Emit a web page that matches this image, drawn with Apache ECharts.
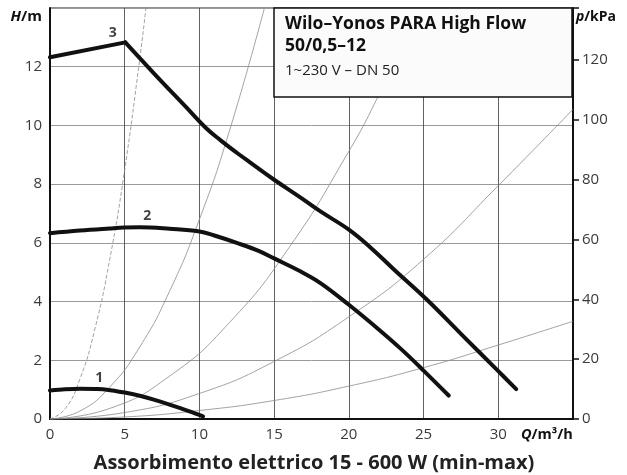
<!DOCTYPE html>
<html>
<head>
<meta charset="utf-8">
<script src="https://cdn.jsdelivr.net/npm/echarts@6/dist/echarts.min.js"></script>
<style>
html,body{margin:0;padding:0;background:#fff;}
#c{width:627px;height:475px;}
</style>
</head>
<body>
<div id="c"></div>
<script>
// ---- data ----
const xTicks = [0, 5, 10, 15, 20, 25, 30];
const hTicks = [0, 2, 4, 6, 8, 10, 12];
const pTicks = [0, 20, 40, 60, 80, 100, 120];

// pump curves (Q m3/h, H m)
const curve1 = [[0,0.97],[1,1.01],[2,1.03],[3,1.02],[3.8,1.0],[5,0.9],[6,0.79],[7,0.65],[8,0.49],[9.33,0.26],[10.24,0.09]];
const curve2 = [[0,6.33],[2,6.42],[4,6.49],[5,6.52],[6,6.53],[8,6.48],[10,6.39],[11,6.25],[12.5,6.0],[14,5.72],[15,5.47],[16.75,5.03],[18.1,4.63],[20,3.89],[22,3.05],[23.5,2.38],[25,1.65],[26.68,0.8]];
const curve3 = [[0,12.32],[5.04,12.83],[7,11.75],[9,10.68],[10.4,9.93],[11.4,9.5],[12.5,9.07],[13.5,8.7],[15,8.15],[16.75,7.55],[18.1,7.07],[20,6.45],[21.5,5.82],[23,5.1],[25.23,4.06],[27.5,2.9],[30,1.63],[31.2,1.02]];

// system curves (thin)
const sysA = [[0,0],[1,0.34],[2,1.36],[3,3.06],[4,5.44],[5,8.5],[6,12.24],[6.42,14]];
const sysB = [[0,0],[2,0.27],[4,1.09],[6,2.45],[8,4.35],[10,6.8],[12,9.8],[14.35,14]];
const sysC = [[0,0],[4,0.36],[8,1.46],[12,3.28],[16,5.84],[20,9.12],[22,11.03],[24.78,14]];
const sysD = [[0,0],[5,0.22],[10,0.87],[15,1.96],[20,3.48],[25,5.44],[30,7.95],[35,10.55]];
const sysE = [[0,0],[5,0.07],[10,0.29],[15,0.63],[20,1.12],[25,1.75],[30,2.52],[35,3.33]];

const curveLabels = [[3.3,1.39,'1'],[6.5,6.9,'2'],[4.2,13.16,'3']];

const titleLines = ['Wilo–Yonos PARA High Flow', '50/0,5–12', '1~230 V – DN 50'];
const footer = 'Assorbimento elettrico 15 - 600 W (min-max)';

const FONT = '"Open Sans", "DejaVu Sans", sans-serif';
const chart = echarts.init(document.getElementById('c'), null, {renderer: 'canvas'});

function thin(data, dashed){
  return {type:'line', data:data, smooth:true, showSymbol:false, silent:true, z:2,
    lineStyle:{color:'#8c8c8c', width:0.8, type: dashed ? [4,2] : 'solid'}};
}
function thick(data, smooth){
  return {type:'line', data:data, smooth:smooth, showSymbol:false, silent:true, z:5,
    lineStyle:{color:'#111', width:4, cap:'round', join:'round'}};
}

chart.setOption({
  animation:false,
  backgroundColor:'#fff',
  grid:{left:50, right:54, top:8, bottom:56, show:true, borderColor:'#222', borderWidth:1, backgroundColor:'transparent'},
  xAxis:{type:'value', min:0, max:35, interval:5,
    axisLine:{show:true, onZero:false, lineStyle:{color:'#111', width:2}},
    axisTick:{show:false},
    axisLabel:{margin:8, color:'#3a3a3a', fontSize:15, fontFamily:FONT,
      formatter:function(v){return xTicks.indexOf(v)>=0 ? String(v) : '';}},
    splitLine:{show:true, lineStyle:{color:'#3a3a3a', width:0.8}}
  },
  yAxis:[
    {type:'value', min:0, max:14, interval:2, position:'left',
      axisLine:{show:true, onZero:false, lineStyle:{color:'#111', width:2}},
      axisTick:{show:false},
      axisLabel:{margin:8, color:'#3a3a3a', fontSize:15, fontFamily:FONT,
        formatter:function(v){return hTicks.indexOf(v)>=0 ? String(v) : '';}},
      splitLine:{show:true, lineStyle:{color:'#9a9a9a', width:1}}
    },
    {type:'value', min:0, max:137.34, interval:20, position:'right',
      axisLine:{show:true, onZero:false, lineStyle:{color:'#111', width:2}},
      axisTick:{show:true, inside:false, length:6, lineStyle:{color:'#111', width:1.5},
        interval:function(i,v){return pTicks.indexOf(v)>=0;}},
      axisLabel:{margin:9, color:'#3a3a3a', fontSize:15, fontFamily:FONT,
        formatter:function(v){return pTicks.indexOf(v)>=0 ? String(v) : '';}},
      splitLine:{show:false}
    }
  ],
  series:[
    thin(sysA, true), thin(sysB), thin(sysC), thin(sysD), thin(sysE),
    thick(curve1, 0.3), thick(curve2, 0.4),
    thick(curve3.slice(0, 2), false), thick(curve3.slice(1), 0.4),
    {type:'scatter', data:curveLabels, symbolSize:0, silent:true, z:6,
      label:{show:true, position:'inside', color:'#111', fontSize:14, fontWeight:'bold', fontFamily:FONT,
        formatter:function(p){return p.value[2];}}}
  ],
  graphic:[
    {type:'rect', z:100, shape:{x:274, y:8, width:298, height:89},
      style:{fill:'#fbfbfb', stroke:'#111', lineWidth:1.5}},
    {type:'text', z:101, style:{text:titleLines[0], x:285, y:24, font:'bold 17.5px '+FONT, fill:'#111',
      textVerticalAlign:'middle', verticalAlign:'middle'}},
    {type:'text', z:101, style:{text:titleLines[1], x:285, y:46, font:'bold 17.5px '+FONT, fill:'#111',
      textVerticalAlign:'middle', verticalAlign:'middle'}},
    {type:'text', z:101, style:{text:titleLines[2], x:285, y:71, font:'15px '+FONT, fill:'#222',
      textVerticalAlign:'middle', verticalAlign:'middle'}},
    {type:'text', z:101, style:{text:'{i|H}{n|/m}', x:42, y:17, textAlign:'right', align:'right',
      textVerticalAlign:'middle', verticalAlign:'middle',
      rich:{i:{font:'italic bold 15px '+FONT, fill:'#111'}, n:{font:'bold 15px '+FONT, fill:'#111'}}}},
    {type:'text', z:101, style:{text:'{i|p}{n|/kPa}', x:576, y:17,
      textVerticalAlign:'middle', verticalAlign:'middle',
      rich:{i:{font:'italic bold 14px '+FONT, fill:'#111'}, n:{font:'bold 14px '+FONT, fill:'#111'}}}},
    {type:'text', z:101, style:{text:'{i|Q}{n|/m³/h}', x:521, y:435,
      textVerticalAlign:'middle', verticalAlign:'middle',
      rich:{i:{font:'italic bold 14.5px '+FONT, fill:'#111'}, n:{font:'bold 14.5px '+FONT, fill:'#111'}}}},
    {type:'text', z:101, style:{text:footer, x:314, y:463, textAlign:'center', align:'center',
      textVerticalAlign:'middle', verticalAlign:'middle', font:'bold 20px '+FONT, fill:'#222'}}
  ]
});
</script>
</body>
</html>
